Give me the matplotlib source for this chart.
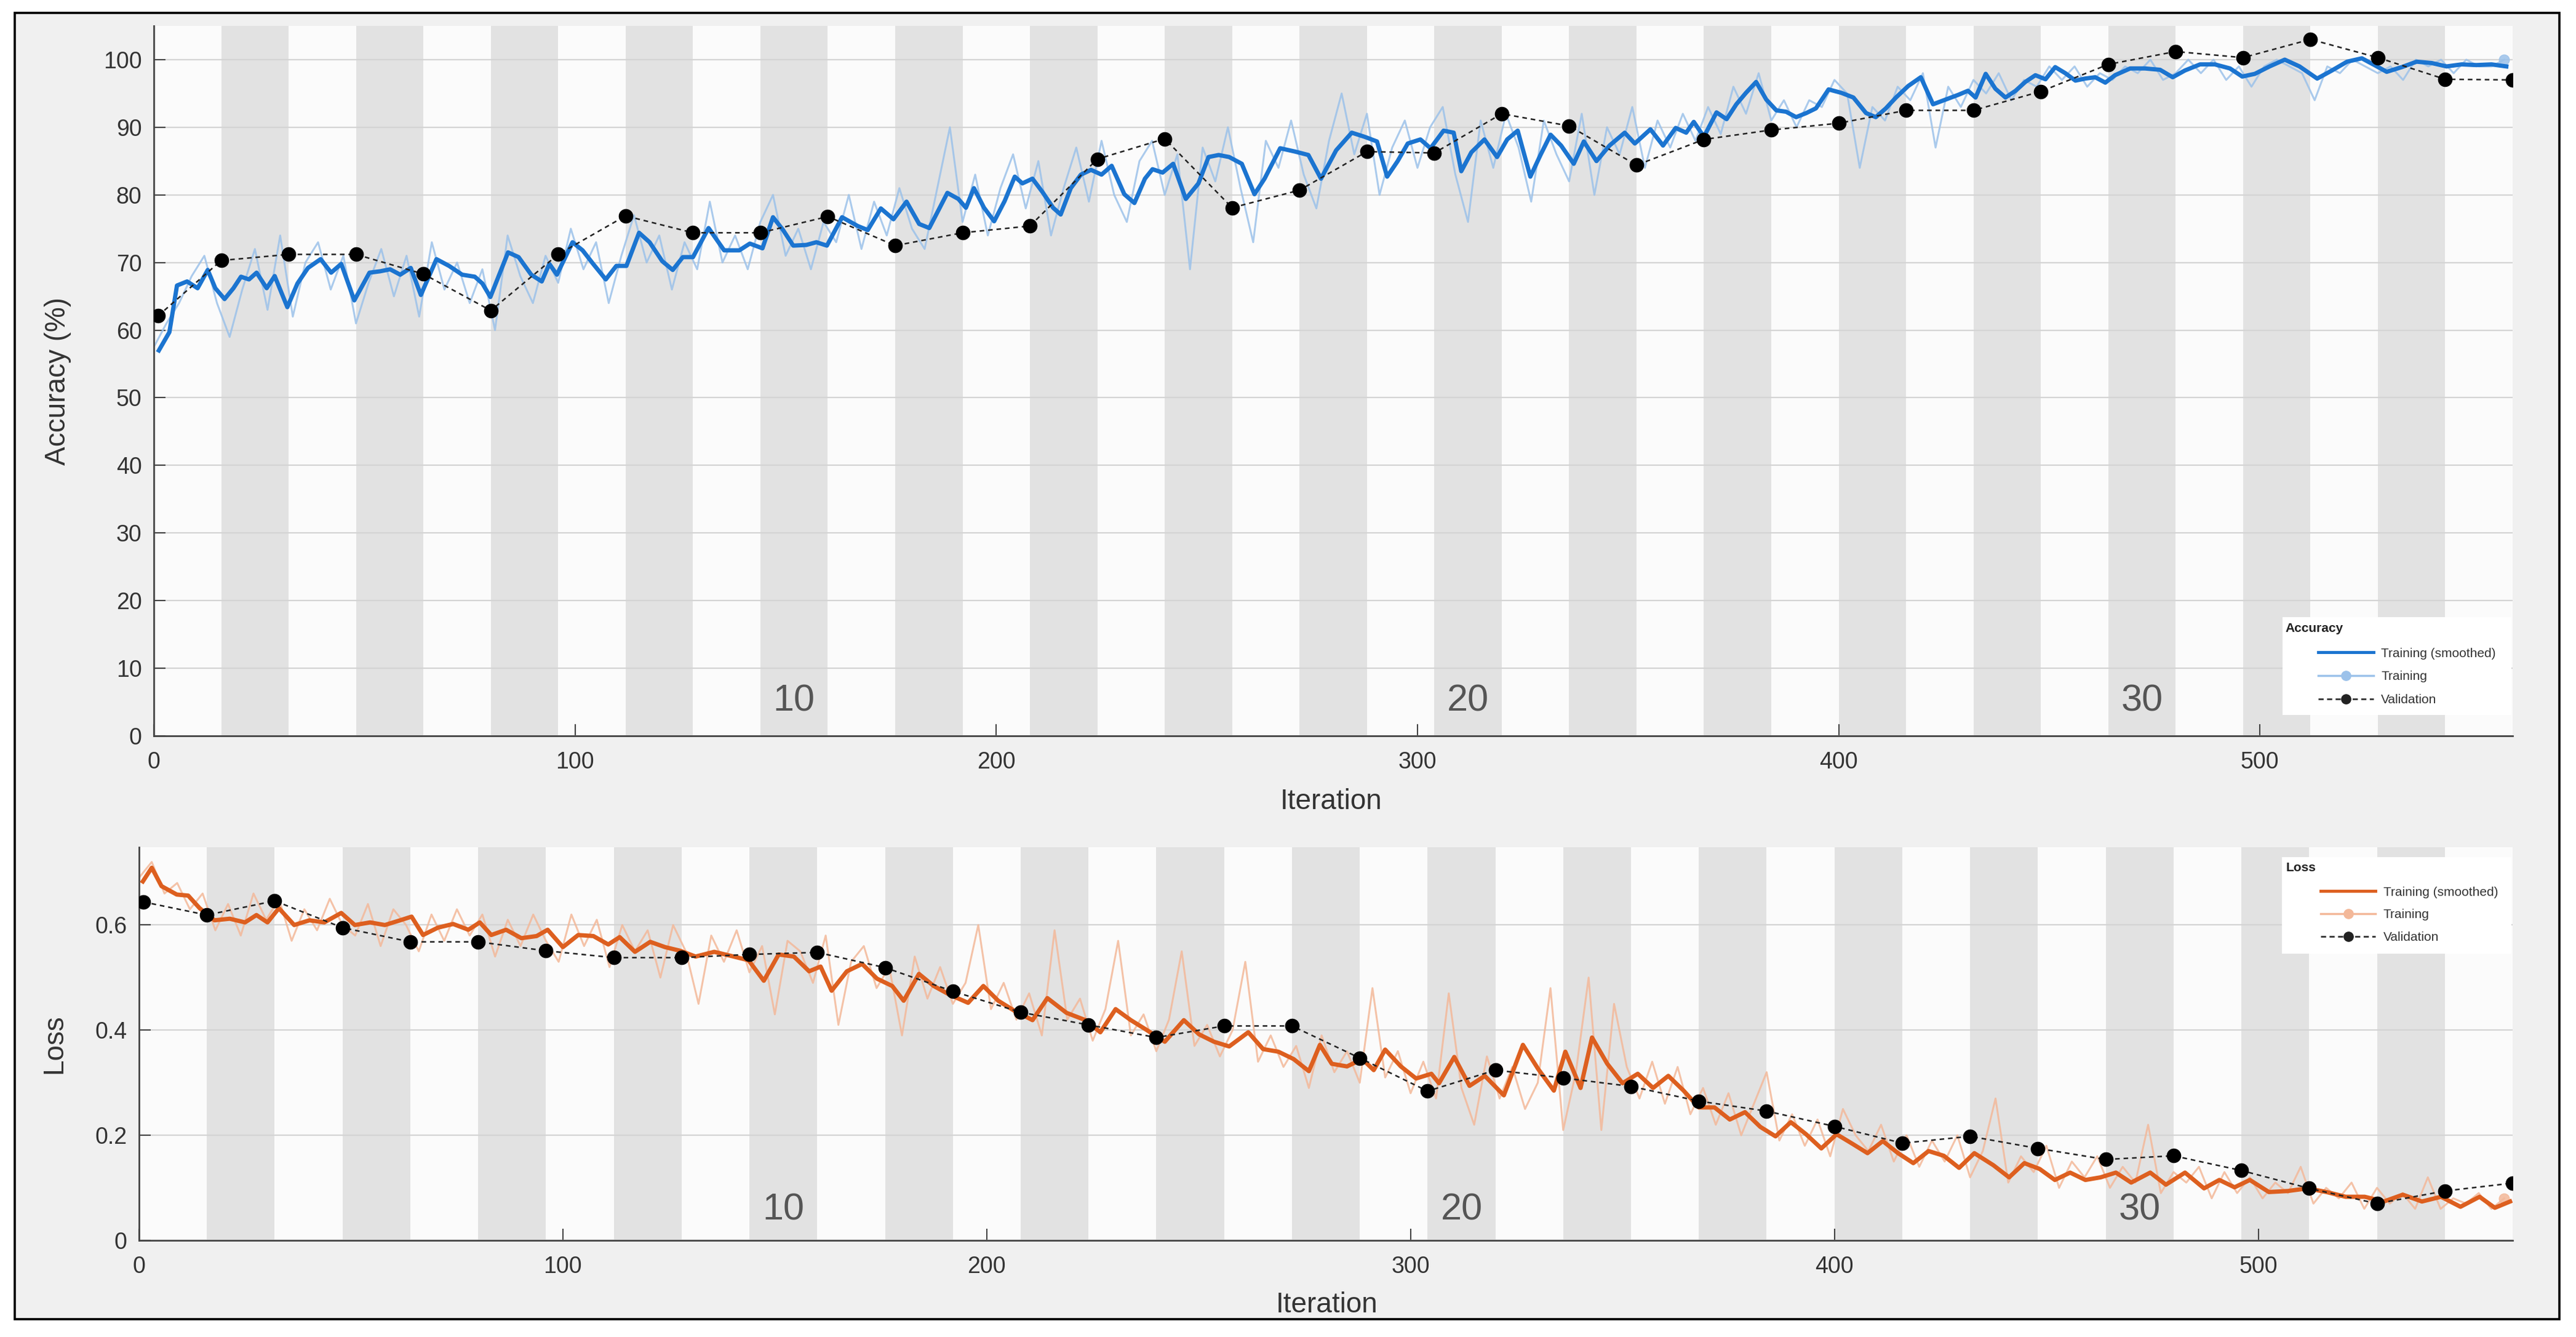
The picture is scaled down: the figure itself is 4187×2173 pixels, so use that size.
import numpy as np
import matplotlib
matplotlib.use("Agg")
import matplotlib.pyplot as plt
from matplotlib.lines import Line2D
from matplotlib.patches import Rectangle

plt.rcParams["font.family"] = ["Liberation Sans", "DejaVu Sans"]

# =========================
# Data
# =========================
iters_per_epoch = 16
n_epochs = 35
epoch_labels = [10, 20, 30]

val_iter = [1, 16, 32, 48, 64, 80, 96, 112, 128, 144, 160, 176, 192, 208, 224, 240, 256, 272,
            288, 304, 320, 336, 352, 368, 384, 400, 416, 432, 448, 464, 480, 496, 512, 528, 544, 560]

val_acc = [62.1, 70.3, 71.2, 71.2, 68.3, 62.9, 71.2, 76.9, 74.4, 74.4, 76.8, 72.5, 74.4, 75.4,
           85.3, 88.3, 78.1, 80.7, 86.4, 86.2, 92.0, 90.2, 84.4, 88.2, 89.6, 90.6, 92.5, 92.5,
           95.3, 99.3, 101.2, 100.3, 103.0, 100.3, 97.1, 97.0]

val_loss = [0.644, 0.619, 0.646, 0.595, 0.568, 0.568, 0.551, 0.538, 0.538, 0.544, 0.548, 0.519,
            0.474, 0.434, 0.410, 0.386, 0.408, 0.408, 0.347, 0.284, 0.324, 0.309, 0.293, 0.265,
            0.246, 0.217, 0.185, 0.198, 0.175, 0.154, 0.161, 0.133, 0.099, 0.070, 0.094, 0.109]

# raw training values, one every 3 iterations (0, 3, ..., 558)
raw_iter = list(range(0, 559, 3))

acc_raw = [
    57.5, 61, 64, 68, 71, 64, 59, 66, 72, 63, 74, 62, 70, 73, 66, 71, 61, 67, 72, 65, 71, 62,
    73, 66, 70, 64, 69, 60, 74, 68, 64, 71, 67, 75, 69, 73, 64, 71, 77, 70, 74,
    66, 73, 69, 79, 70, 74, 69, 76, 80, 71, 75, 69, 76, 73, 80, 72, 79, 74, 81, 75,
    72, 81, 90, 76, 83, 74, 81, 86, 78, 85, 74, 81, 87, 79, 88, 80, 76, 85, 88, 80,
    86, 69, 87, 82, 90, 81, 73, 88, 84, 91, 83, 78, 88, 95, 86, 92, 80, 87, 91, 84,
    90, 93, 83, 76, 91, 84, 92, 87, 79, 91, 86, 82, 92, 80, 90, 86, 93, 84, 91, 87,
    92, 88, 93, 89, 96, 92, 98, 91, 94, 90, 94, 93, 97, 95, 84, 93, 91, 96, 94, 98,
    87, 96, 93, 97, 95, 98, 94, 97, 96, 99, 97, 99, 96, 98, 97, 99, 98, 100, 97, 98,
    100, 98, 100, 97, 99, 96, 99, 100, 99, 98, 94, 99, 98, 100, 99, 98, 99, 97, 100, 99,
    100, 98, 100, 99, 99, 100,
]

loss_raw = [
    0.69, 0.72, 0.66, 0.68, 0.63, 0.66, 0.59, 0.64, 0.58, 0.66, 0.61, 0.65, 0.57, 0.63, 0.59, 0.65,
    0.60, 0.58, 0.64, 0.56, 0.63, 0.60,
    0.55, 0.62, 0.57, 0.63, 0.58, 0.62, 0.54, 0.61, 0.56, 0.62, 0.57, 0.53, 0.62, 0.56, 0.61, 0.52,
    0.60, 0.55, 0.59,
    0.50, 0.60, 0.55, 0.45, 0.58, 0.53, 0.59, 0.51, 0.56, 0.43, 0.57, 0.55, 0.49, 0.58, 0.41, 0.53,
    0.56, 0.48, 0.52, 0.39,
    0.54, 0.46, 0.52, 0.45, 0.49, 0.60, 0.44, 0.49, 0.42, 0.47, 0.39, 0.59, 0.42, 0.46, 0.38, 0.44,
    0.57, 0.39, 0.43, 0.36,
    0.42, 0.55, 0.37, 0.41, 0.35, 0.40, 0.53, 0.34, 0.39, 0.33, 0.37, 0.29, 0.39, 0.32, 0.36, 0.30,
    0.48, 0.31, 0.36, 0.28,
    0.34, 0.27, 0.47, 0.29, 0.22, 0.35, 0.27, 0.33, 0.25, 0.30, 0.48, 0.21, 0.32, 0.50, 0.21, 0.45,
    0.33, 0.27, 0.34, 0.26,
    0.33, 0.24, 0.29, 0.22, 0.28, 0.20, 0.26, 0.32, 0.19, 0.24, 0.18, 0.23, 0.16, 0.25, 0.20, 0.17,
    0.22, 0.15, 0.20, 0.14,
    0.19, 0.15, 0.20, 0.12, 0.17, 0.27, 0.11, 0.16, 0.13, 0.18, 0.10, 0.15, 0.12, 0.16, 0.10, 0.14,
    0.11, 0.22, 0.09, 0.13,
    0.11, 0.14, 0.08, 0.13, 0.09, 0.12, 0.08, 0.11, 0.09, 0.14, 0.07, 0.10, 0.08, 0.11, 0.06, 0.10,
    0.07, 0.09, 0.06, 0.12, 0.06, 0.08, 0.07, 0.09, 0.06, 0.08,
]

# smoothed training curves, read at irregular iterations
acc_smooth_x = [
    1.2, 3.7, 5.5, 7.9, 10.4, 12.8, 14.6, 16.8, 18.9, 20.7, 22.6, 24.4, 26.8, 28.7, 31.7, 34.1,
    36.6, 39.6, 42.1, 44.5, 47.6, 51.2, 53.7, 56.1, 58.5, 61.0, 63.4, 67.1, 70.1, 73.2, 76.2, 78.0,
    79.9, 84.1, 86.6, 89.6, 92.1, 93.9, 95.7, 99.4, 101.8, 104.3, 107.3, 109.8, 112.2, 115.2, 117.7,
    120.7, 123.2, 125.6, 128.0, 131.7, 135.4, 139.0, 141.5, 144.5, 147.0, 149.4, 151.8, 154.9, 157.3,
    159.8, 163.4, 167.1, 169.5, 172.6, 175.6, 178.7, 181.7, 184.1, 188.4,
    191.0, 192.8, 194.7, 197.1, 199.5, 202.0, 204.4, 206.2, 208.6, 211.0, 213.5, 215.3, 217.7,
    220.1, 222.5, 225.0, 227.4, 230.4, 232.8, 235.3, 237.1, 239.5, 242.0, 245.0, 248.0, 250.4,
    252.8, 255.3, 258.3, 261.3, 263.7, 267.4, 271.0, 274.1, 277.1, 280.7, 284.4, 287.4, 290.4,
    292.8, 295.3, 297.7, 300.7, 303.1, 306.2, 308.6, 310.4, 312.8, 315.9, 318.9, 321.3, 323.8,
    326.8, 329.2, 331.6, 334.1, 337.1, 339.5, 342.5, 345.6, 349.2, 351.6, 355.3, 358.3, 361.3,
    363.8, 365.6, 368.0, 371.0, 373.4,
    375.7, 378.0, 380.4, 382.8, 385.2, 387.5, 389.9, 392.3, 394.6, 397.6, 400.6, 403.5, 406.5,
    408.8, 411.2, 413.6, 416.5, 419.5, 422.4, 425.4, 428.4, 430.7, 432.5, 434.9, 437.2, 439.6,
    442.0, 444.3, 446.7, 449.1, 451.4, 453.8, 456.2, 458.5, 460.9, 463.3, 465.6, 469.2, 472.7,
    476.3, 479.3, 482.2, 485.8, 489.3, 492.9, 495.8, 498.8, 502.3, 505.9, 509.4, 513.6, 517.1,
    520.7, 524.2, 527.2, 530.1, 533.7, 537.2, 540.8, 544.3, 547.9, 551.4, 555.0, 558.5,
]
acc_smooth_y = [
    57.0, 59.7, 66.6, 67.2, 66.2, 68.9, 66.2, 64.6, 66.2, 67.9, 67.5, 68.5, 66.2, 68.0, 63.4, 66.9,
    69.2, 70.5, 68.5, 69.8, 64.4, 68.5, 68.7, 69.0, 68.2, 69.2, 65.2, 70.5, 69.5, 68.2, 67.9, 66.9,
    64.9, 71.5, 70.8, 68.2, 67.2, 69.8, 68.2, 73.0, 71.8, 69.8, 67.5, 69.5, 69.5, 74.4, 73.0,
    70.2, 68.9, 70.8, 70.8, 75.1, 71.8, 71.8, 72.8, 72.1, 76.7, 74.8, 72.5, 72.6, 73.0,
    72.5, 76.7, 75.4, 74.8, 78.0, 76.4, 79.0, 75.7, 75.1, 80.3,
    79.4, 78.1, 81.0, 78.1, 76.1, 79.1, 82.7, 81.7, 82.4, 80.4, 78.1, 77.1, 81.0,
    83.0, 83.7, 83.0, 84.3, 80.1, 78.8, 82.4, 83.8, 83.3, 84.6, 79.4, 81.7, 85.6,
    85.9, 85.6, 84.6, 80.1, 82.4, 86.9, 86.4, 85.9, 82.4, 86.6, 89.2, 88.6, 87.9,
    82.7, 85.0, 87.6, 88.2, 86.9, 89.5, 89.2, 83.5, 86.3, 88.2, 85.6, 88.2, 89.5,
    82.7, 85.9, 88.9, 87.3, 84.6, 87.9, 85.0, 87.3, 89.2, 87.6, 89.7, 87.3, 89.9,
    89.2, 90.8, 88.6, 92.2, 91.2,
    93.4, 95.1, 96.7, 94.1, 92.5, 92.3, 91.5, 92.1, 92.8, 95.6, 95.1, 94.4, 92.1,
    91.5, 92.8, 94.4, 96.1, 97.4, 93.4, 94.1, 94.8, 95.4, 94.4, 97.9, 95.7, 94.4,
    95.4, 96.7, 97.7, 97.1, 98.9, 98.0, 96.9, 97.2, 97.4, 96.6, 97.7, 98.7, 98.7,
    98.5, 97.4, 98.4, 99.3, 99.3, 98.7, 97.5, 97.9, 99.0, 100.0, 99.0, 97.2, 98.4,
    99.7, 100.2, 99.2, 98.2, 98.9, 99.7, 99.5, 99.0, 99.3, 99.2, 99.3, 99.0,
]

loss_smooth_x = [
    0.9, 3.0, 5.3, 8.9, 11.6, 14.3, 17.8, 21.4, 25.0, 27.7, 30.3, 33.0, 36.6, 40.2, 43.7, 47.7,
    50.9, 54.5, 58.0, 61.6, 64.3, 67.0, 70.5, 74.1, 77.7, 80.4, 83.1, 86.6, 90.2, 93.8, 96.4,
    100.0, 103.6, 107.2, 110.7, 113.4, 117.0, 120.6, 124.1, 127.7, 131.3, 135.7, 139.3, 143.8,
    147.4, 150.9, 154.5, 158.1, 160.8, 163.4, 167.0, 170.6, 174.1, 177.7, 180.4, 184.0, 187.5,
    191.1, 195.6, 199.2, 202.7, 206.3, 210.8, 214.3, 218.8, 223.3, 226.8, 230.4, 234.0, 237.6,
    242.0, 246.5, 250.1, 253.6, 257.2, 261.7, 265.2, 268.8, 272.4, 276.0, 278.6,
    281.4, 285.0, 288.6, 291.3, 294.0, 297.7, 301.3, 304.9, 306.7, 310.3, 313.9, 317.5, 322.0,
    326.5, 330.1, 333.8, 336.5, 340.1, 342.8, 346.4, 350.0, 353.6, 357.2, 360.8, 364.4, 368.0,
    371.7, 375.3, 378.9, 382.5, 386.1, 389.7, 393.3, 396.9, 400.5, 404.2, 407.8, 411.4, 415.0,
    418.6, 422.2, 425.8, 429.4, 433.0, 437.5, 441.2, 444.8, 448.4, 452.0, 455.6, 459.2, 462.8,
    466.4, 470.0, 474.5, 478.2, 482.7, 487.2, 490.8, 494.4, 498.0, 502.5, 507.0, 511.6, 516.1,
    520.6, 525.1, 529.6, 534.1, 538.6, 543.1, 547.7, 552.2, 555.8, 559.4,
]
loss_smooth_y = [
    0.683, 0.709, 0.674, 0.658, 0.656, 0.632, 0.609, 0.612, 0.605, 0.619, 0.605, 0.632, 0.600,
    0.609, 0.605, 0.623, 0.600, 0.605, 0.600, 0.609, 0.616, 0.581, 0.595, 0.602, 0.591, 0.605,
    0.581, 0.591, 0.575, 0.579, 0.591, 0.558, 0.581, 0.579, 0.563, 0.577, 0.549, 0.568, 0.558,
    0.551, 0.540, 0.549, 0.542, 0.533, 0.494, 0.544, 0.540, 0.512, 0.521, 0.475, 0.512, 0.526,
    0.498, 0.484, 0.456, 0.507, 0.484, 0.468, 0.452, 0.484, 0.456, 0.438, 0.419, 0.461, 0.433,
    0.419, 0.396, 0.440, 0.419, 0.401, 0.378, 0.419, 0.392, 0.378, 0.369, 0.396, 0.364, 0.359,
    0.345, 0.322, 0.372,
    0.336, 0.331, 0.345, 0.324, 0.363, 0.331, 0.308, 0.317, 0.299, 0.349, 0.294, 0.313, 0.276,
    0.372, 0.326, 0.285, 0.359, 0.290, 0.386, 0.336, 0.299, 0.317, 0.290, 0.313, 0.285, 0.253,
    0.253, 0.230, 0.244, 0.216, 0.198, 0.225, 0.202, 0.175, 0.202, 0.184, 0.166, 0.189, 0.166,
    0.147, 0.170, 0.161, 0.138, 0.166, 0.143, 0.120, 0.147, 0.136, 0.115, 0.129, 0.115, 0.120,
    0.129, 0.110, 0.129, 0.106, 0.129, 0.099, 0.115, 0.101, 0.115, 0.092, 0.094, 0.099, 0.092,
    0.083, 0.083, 0.074, 0.087, 0.074, 0.083, 0.064, 0.083, 0.062, 0.074,
]

# =========================
# Styles
# =========================
acc_dark = "#1b74d0"
acc_light = "#9cc2ea"
loss_dark = "#dd5f1f"
loss_light = "#f3b899"
stripe_grey = "#e2e2e2"
text_col = "#333333"

W, H = 4187, 2173
fig = plt.figure(figsize=(W / 100, H / 100), dpi=100)
fig.patch.set_facecolor("white")

# outer frame
fig.patches.append(Rectangle((0.0057, 0.0134), 0.9879, 0.9770, transform=fig.transFigure,
                             facecolor="#f0f0f0", edgecolor="black", linewidth=2.6, zorder=-5))

ax1 = fig.add_axes([250 / W, 1 - 1196 / H, 3834 / W, 1154 / H])
ax2 = fig.add_axes([226 / W, 1 - 2016 / H, 3858 / W, 639 / H])


def style_axes(ax):
    ax.set_facecolor("#fbfbfb")
    ax.set_xlim(0, iters_per_epoch * n_epochs)
    for e in range(n_epochs):
        if e % 2 == 1:
            ax.axvspan(e * iters_per_epoch, (e + 1) * iters_per_epoch,
                       color=stripe_grey, lw=0, zorder=0)
    for s in ["top", "right"]:
        ax.spines[s].set_visible(False)
    for s in ["left", "bottom"]:
        ax.spines[s].set_color("#444444")
        ax.spines[s].set_linewidth(2.0)
    ax.grid(axis="y", color="#d4d4d4", linewidth=1.6, zorder=0.5)
    ax.set_axisbelow(True)
    ax.tick_params(direction="in", length=14, width=1.5, color="#444444",
                   labelsize=27, labelcolor=text_col)
    ax.tick_params(axis="y", pad=14)
    ax.tick_params(axis="x", pad=18)
    ax.set_xticks([0, 100, 200, 300, 400, 500])
    ax.set_xlabel("Iteration", fontsize=33, color=text_col)


# =========================
# Accuracy
# =========================
style_axes(ax1)
ax1.set_ylim(0, 105)
ax1.set_yticks(range(0, 101, 10))
ax1.plot(raw_iter, acc_raw, color=acc_light, linewidth=2.2, alpha=0.85, zorder=2)
ax1.plot(raw_iter[-1], acc_raw[-1], "o", color=acc_light, ms=12, alpha=0.85, zorder=2)
ax1.plot(acc_smooth_x, acc_smooth_y, color=acc_dark, linewidth=5.0, zorder=3)
ax1.plot(val_iter, val_acc, linestyle=(0, (3, 2.5)), color="#222222", linewidth=1.8,
         marker="o", markersize=16, markerfacecolor="black", markeredgecolor="black", zorder=4)
ax1.set_ylabel("Accuracy (%)", fontsize=33, color=text_col)
ax1.yaxis.set_label_coords(-0.035, 0.5)
ax1.xaxis.set_label_coords(0.499, -0.074)
for ep in epoch_labels:
    ax1.text((ep - 0.5) * iters_per_epoch, 5.1, str(ep), fontsize=44, color="#555555",
             ha="center", va="center", zorder=5)

# =========================
# Loss
# =========================
style_axes(ax2)
ax2.set_ylim(0, 0.748)
ax2.set_yticks([0, 0.2, 0.4, 0.6])
ax2.set_yticklabels(["0", "0.2", "0.4", "0.6"])
ax2.plot(raw_iter, loss_raw, color=loss_light, linewidth=2.2, alpha=0.85, zorder=2)
ax2.plot(raw_iter[-1], loss_raw[-1], "o", color=loss_light, ms=12, alpha=0.85, zorder=2)
ax2.plot(loss_smooth_x, loss_smooth_y, color=loss_dark, linewidth=5.0, zorder=3)
ax2.plot(val_iter, val_loss, linestyle=(0, (3, 2.5)), color="#222222", linewidth=1.8,
         marker="o", markersize=16, markerfacecolor="black", markeredgecolor="black", zorder=4)
ax2.set_ylabel("Loss", fontsize=33, color=text_col)
ax2.yaxis.set_label_coords(-0.030, 0.5)
ax2.xaxis.set_label_coords(0.5005, -0.130)
for ep in epoch_labels:
    ax2.text((ep - 0.5) * iters_per_epoch, 0.057, str(ep), fontsize=44, color="#555555",
             ha="center", va="center", zorder=5)


# =========================
# Legends (box + title + entries)
# =========================
def add_legend(ax, title, dark, light, box, title_xy, anchor, spacing):
    ax.add_patch(Rectangle(box[:2], box[2], box[3], transform=ax.transAxes,
                           facecolor="white", edgecolor="none", zorder=10))
    ax.text(title_xy[0], title_xy[1], title, transform=ax.transAxes, fontsize=15,
            fontweight="bold", color="#222222", ha="left", va="center", zorder=11)
    handles = [
        Line2D([], [], color=dark, linewidth=3.5),
        Line2D([], [], color=light, linewidth=2.5, marker="o", markersize=11),
        Line2D([], [], color="#333333", linewidth=2.0, linestyle=(0, (3, 2)),
               marker="o", markersize=11, markerfacecolor="#222222", markeredgecolor="#222222"),
    ]
    leg = ax.legend(handles, ["Training (smoothed)", "Training", "Validation"],
                    loc="center left", bbox_to_anchor=anchor, frameon=False,
                    fontsize=15, handlelength=4.3, handletextpad=0.6,
                    labelspacing=spacing, borderpad=0, borderaxespad=0)
    leg.set_zorder(12)
    for t in leg.get_texts():
        t.set_color("#333333")


add_legend(ax1, "Accuracy", acc_dark, acc_light,
           (0.9025, 0.0295, 0.0970, 0.1377), (0.9037, 0.1516), (0.9176, 0.0832), 0.9)
add_legend(ax2, "Loss", loss_dark, loss_light,
           (0.9028, 0.729, 0.0967, 0.246), (0.9044, 0.947), (0.9191, 0.828), 0.85)

fig.savefig("out.png", dpi=100, facecolor=fig.get_facecolor())
